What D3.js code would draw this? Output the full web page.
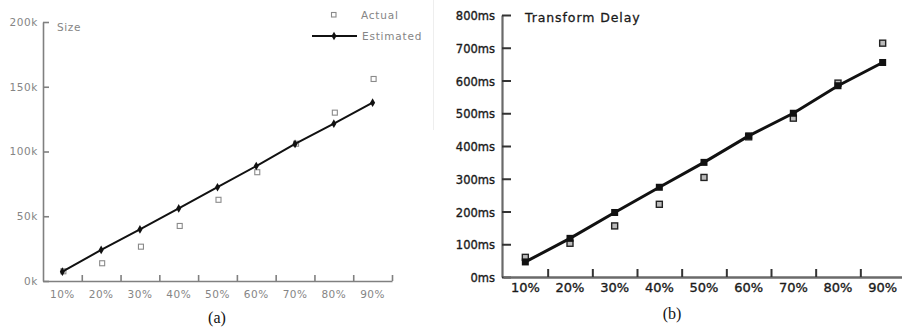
<!DOCTYPE html>
<html>
<head>
<meta charset="utf-8">
<script src="https://cdn.jsdelivr.net/npm/d3@7/dist/d3.min.js"></script>
<style>
  html, body { margin: 0; padding: 0; background: #fff; }
  svg { display: block; }
</style>
</head>
<body>
<svg id="chart" width="902" height="328"></svg>
<script>
// ---- data ----
const categories = ["10%", "20%", "30%", "40%", "50%", "60%", "70%", "80%", "90%"];

// (a) Size, in thousands
const sizeActual    = [7.5, 13.7, 26.5, 42.5, 62.7, 84, 106, 130, 156];
const sizeEstimated = [7.2, 24, 39.8, 56, 72.4, 88.8, 105.8, 121.5, 137.7];
const sizeTicks     = [0, 50, 100, 150, 200];
const sizeTickLabels = ["0k", "50k", "100k", "150k", "200k"];

// (b) Transform Delay, in ms
const delayActual    = [60, 103, 156, 222, 304, 428, 485, 592, 714];
const delayEstimated = [46, 118, 197, 274, 350, 431, 500, 584, 655];
const delayTicks     = [0, 100, 200, 300, 400, 500, 600, 700, 800];
const delayTickLabels = delayTicks.map(d => d + "ms");

const svg = d3.select("#chart");

// faint page divider
svg.append("line").attr("x1", 433.5).attr("x2", 433.5).attr("y1", 0).attr("y2", 130)
  .attr("stroke", "#eee").attr("stroke-width", 1);

// ================= (a) =================
(function () {
  const g = svg.append("g");
  const x = d3.scaleBand().domain(categories).range([43, 392]);
  const y = d3.scaleLinear().domain([0, 200]).range([281, 22]);
  const font = "DejaVu Sans, sans-serif";
  const axisCol = "#808080", textCol = "#858585";

  // y axis
  const ya = g.append("g").attr("transform", "translate(43,0)")
    .call(d3.axisLeft(y).tickValues(sizeTicks).tickFormat((d, i) => sizeTickLabels[i])
      .tickSizeInner(-6).tickSizeOuter(0).tickPadding(5));
  ya.select(".domain").attr("stroke", axisCol).attr("stroke-width", 1.6);
  ya.selectAll(".tick line").attr("stroke", axisCol).attr("stroke-width", 1.6);
  ya.selectAll(".tick text").attr("fill", textCol).style("font-family", font)
    .style("font-size", "10.5px").style("letter-spacing", "0.6px");

  // x axis (ticks at band boundaries)
  const xb = d3.scaleLinear().domain([0, categories.length]).range([43, 392]);
  const xa = g.append("g").attr("transform", "translate(0,281)")
    .call(d3.axisBottom(xb).tickValues(d3.range(1, categories.length + 1)).tickFormat("")
      .tickSizeInner(-6).tickSizeOuter(0));
  xa.select(".domain").attr("stroke", axisCol).attr("stroke-width", 1.6);
  xa.selectAll(".tick line").attr("stroke", axisCol).attr("stroke-width", 1.6);
  g.append("g").selectAll("text").data(categories).join("text")
    .attr("x", d => x(d) + x.bandwidth() / 2).attr("y", 298)
    .attr("text-anchor", "middle").attr("fill", textCol)
    .style("font-family", font).style("font-size", "10.5px").style("letter-spacing", "0.5px")
    .text(d => d);

  // axis title
  g.append("text").attr("x", 57).attr("y", 31).attr("fill", textCol)
    .style("font-family", font).style("font-size", "10.5px").style("letter-spacing", "0.6px")
    .text("Size");

  // actual markers
  const cx = d => x(d) + x.bandwidth() / 2;
  g.append("g").selectAll("rect").data(sizeActual).join("rect")
    .attr("x", (d, i) => cx(categories[i]) + 1 - 2.5).attr("y", d => y(d) - 2.5)
    .attr("width", 5).attr("height", 5)
    .attr("fill", "#fff").attr("stroke", "#8a8a8a").attr("stroke-width", 1.1);

  // estimated line
  g.append("path").datum(sizeEstimated)
    .attr("d", d3.line().x((d, i) => cx(categories[i])).y(d => y(d)))
    .attr("fill", "none").attr("stroke", "#111").attr("stroke-width", 2);
  g.append("g").selectAll("path").data(sizeEstimated).join("path")
    .attr("d", d3.symbol(d3.symbolDiamond, 22))
    .attr("transform", (d, i) => `translate(${cx(categories[i])},${y(d)})`)
    .attr("fill", "#111");

  // legend
  const lg = g.append("g");
  lg.append("rect").attr("x", 331.5).attr("y", 12.5).attr("width", 4.5).attr("height", 4.5)
    .attr("fill", "#fff").attr("stroke", "#8a8a8a").attr("stroke-width", 1.1);
  lg.append("text").attr("x", 361).attr("y", 19).attr("fill", textCol)
    .style("font-family", font).style("font-size", "10.5px").style("letter-spacing", "0.8px").text("Actual");
  lg.append("line").attr("x1", 312).attr("x2", 357).attr("y1", 36).attr("y2", 36)
    .attr("stroke", "#111").attr("stroke-width", 2);
  lg.append("path").attr("d", d3.symbol(d3.symbolDiamond, 22)).attr("transform", "translate(334,36)")
    .attr("fill", "#111");
  lg.append("text").attr("x", 362).attr("y", 40).attr("fill", textCol)
    .style("font-family", font).style("font-size", "10.5px").style("letter-spacing", "0.8px").text("Estimated");

  // caption
  g.append("text").attr("x", 217).attr("y", 323).attr("text-anchor", "middle")
    .attr("fill", "#111").style("font-family", "Liberation Serif, Times New Roman, serif")
    .style("font-size", "16px").text("(a)");
})();

// ================= (b) =================
(function () {
  const g = svg.append("g");
  const x = d3.scaleBand().domain(categories).range([503, 905]);
  const y = d3.scaleLinear().domain([0, 800]).range([277, 15]);
  const font = "DejaVu Sans, sans-serif";
  const axisCol = "#6a6a6a", textCol = "#1a1a1a";

  const ya = g.append("g").attr("transform", "translate(502,0)")
    .call(d3.axisLeft(y).tickValues(delayTicks).tickFormat((d, i) => delayTickLabels[i])
      .tickSizeInner(-9).tickSizeOuter(0).tickPadding(7));
  ya.select(".domain").attr("stroke", axisCol).attr("stroke-width", 2.2);
  ya.selectAll(".tick line").attr("stroke", "#333").attr("stroke-width", 2);
  ya.selectAll(".tick text").attr("fill", textCol).attr("stroke", textCol).attr("stroke-width", 0.35)
    .style("font-family", font).style("font-size", "11.5px").attr("dy", "0.4em");

  const xb = d3.scaleLinear().domain([0, categories.length]).range([503, 905]);
  const xa = g.append("g").attr("transform", "translate(0,277)")
    .call(d3.axisBottom(xb).tickValues(d3.range(1, categories.length)).tickFormat("")
      .tickSizeInner(-8).tickSizeOuter(0));
  xa.select(".domain").attr("stroke", axisCol).attr("stroke-width", 2.6);
  xa.selectAll(".tick line").attr("stroke", "#333").attr("stroke-width", 2);
  g.append("g").selectAll("text").data(categories).join("text")
    .attr("x", d => x(d) + x.bandwidth() / 2).attr("y", 292)
    .attr("text-anchor", "middle").attr("fill", textCol).attr("stroke", textCol).attr("stroke-width", 0.35)
    .style("font-family", font).style("font-size", "13px")
    .text(d => d);

  g.append("text").attr("x", 525).attr("y", 22).attr("fill", textCol)
    .attr("stroke", textCol).attr("stroke-width", 0.3)
    .style("font-family", font).style("font-size", "12.5px").style("letter-spacing", "0.9px")
    .text("Transform Delay");

  const cx = d => x(d) + x.bandwidth() / 2;
  g.append("path").datum(delayEstimated)
    .attr("d", d3.line().x((d, i) => cx(categories[i])).y(d => y(d)))
    .attr("fill", "none").attr("stroke", "#111").attr("stroke-width", 3);

  // actual markers
  g.append("g").selectAll("rect").data(delayActual).join("rect")
    .attr("x", (d, i) => cx(categories[i]) - 3).attr("y", d => y(d) - 3)
    .attr("width", 6).attr("height", 6)
    .attr("fill", "#bbb").attr("stroke", "#222").attr("stroke-width", 1.4);

  // estimated markers
  g.append("g").selectAll("rect").data(delayEstimated).join("rect")
    .attr("x", (d, i) => cx(categories[i]) - 3.5).attr("y", d => y(d) - 3.5)
    .attr("width", 7).attr("height", 7)
    .attr("fill", "#111");

  g.append("text").attr("x", 672).attr("y", 319).attr("text-anchor", "middle")
    .attr("fill", "#111").style("font-family", "Liberation Serif, Times New Roman, serif")
    .style("font-size", "16px").text("(b)");
})();
</script>
</body>
</html>
